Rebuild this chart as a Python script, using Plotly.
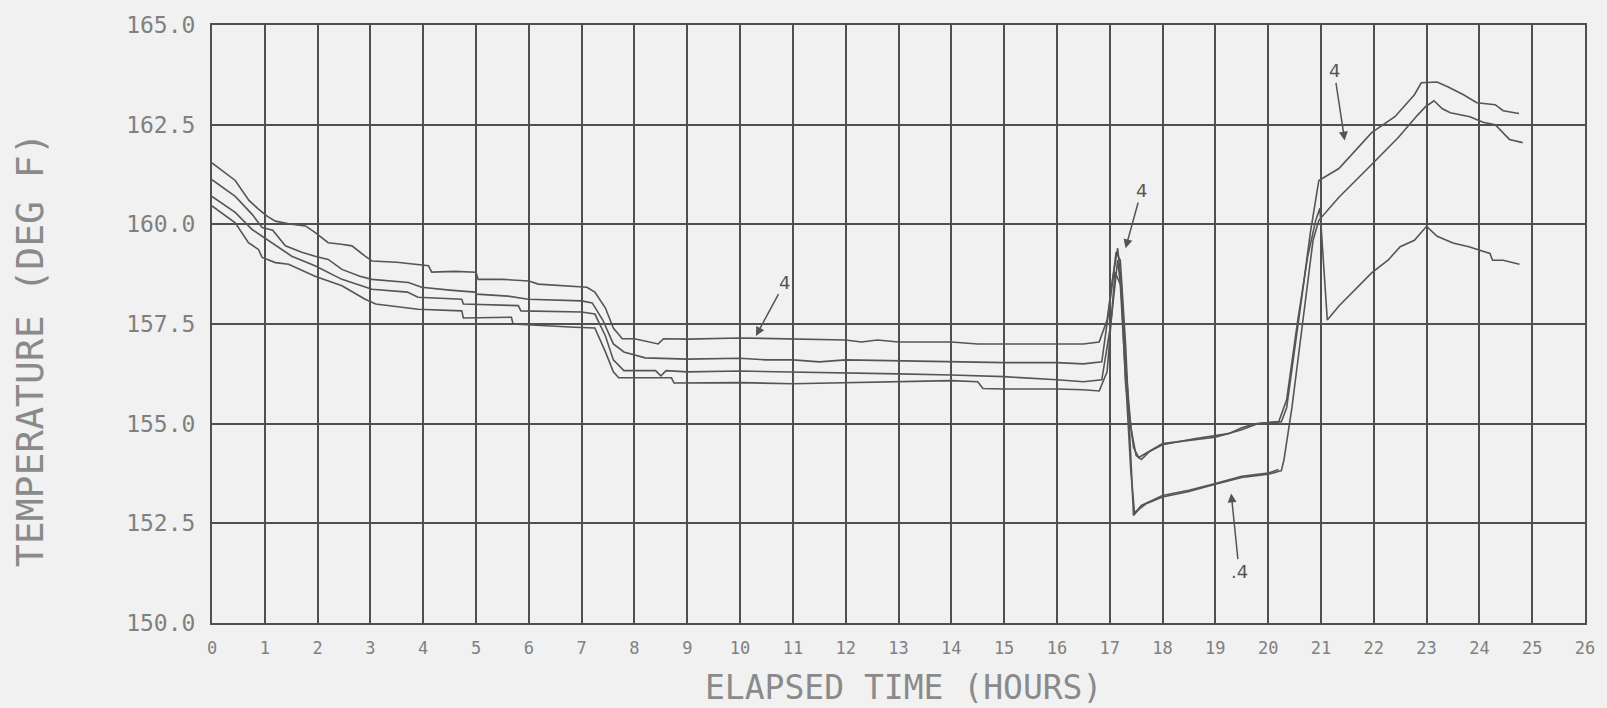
import plotly.graph_objects as go

# ---- data ----
t1 = [0, 0.2, 0.44, 0.7, 0.88, 1.05, 1.2, 1.5, 1.77, 1.95, 2.2, 2.45, 2.65, 2.9, 3.03, 3.5, 4.1, 4.16, 4.6, 5.0, 5.04,
      5.5, 6.0, 6.18, 6.6, 7.1, 7.25, 7.45, 7.6, 7.77, 8.0, 8.45, 8.55, 9, 10, 11, 12, 12.3, 12.6, 13, 14, 14.5, 15, 16,
      16.5, 16.8, 16.95, 17.05, 17.15, 17.22, 17.3, 17.4, 17.5, 17.6, 17.75, 18, 18.3, 18.6, 19, 19.25, 19.5, 19.75,
      20.0, 20.25, 20.35, 20.5, 20.65, 20.8, 20.96, 21.34, 21.96, 22.4, 22.77, 22.9, 23.2, 23.4, 23.7, 23.95, 24.3,
      24.45, 24.75]
v1 = [161.54, 161.35, 161.1, 160.6, 160.38, 160.2, 160.08, 160.0, 159.96, 159.8, 159.54, 159.5, 159.46, 159.2, 159.08,
      159.05, 158.96, 158.8, 158.82, 158.8, 158.62, 158.62, 158.58, 158.5, 158.47, 158.42, 158.3, 157.9, 157.4, 157.13,
      157.13, 157.0, 157.13, 157.12, 157.15, 157.12, 157.1, 157.05, 157.1, 157.05, 157.05, 157.0, 157.0, 157.0, 157.0,
      157.05, 157.6, 158.6, 159.4, 158.5, 156.5, 154.9, 154.2, 154.1, 154.3, 154.47, 154.55, 154.62, 154.7, 154.75,
      154.9, 155.0, 155.03, 155.05, 155.4, 156.8, 158.3, 159.8, 161.1, 161.4, 162.3, 162.7, 163.25, 163.55, 163.57,
      163.45, 163.25, 163.05, 163.0, 162.85, 162.78]

t2 = [0, 0.44, 0.76, 0.95, 1.15, 1.39, 1.7, 1.95, 2.2, 2.46, 2.8, 3.03, 3.72, 3.97, 4.5, 4.98, 5.01, 5.6, 5.99, 6.5,
      7.0, 7.2, 7.4, 7.6, 7.8, 8.2, 9, 10, 10.5, 11, 11.5, 12, 13, 14, 14.5, 15, 16, 16.5, 16.85, 17.0, 17.12, 17.2,
      17.3, 17.38, 17.45, 17.55, 17.7, 18, 18.5, 19, 19.5, 20, 20.25, 20.3, 20.45, 20.65, 20.85, 20.96, 21.34, 21.96,
      22.46, 22.83, 22.98, 23.14, 23.3, 23.45, 23.82, 24.07, 24.3, 24.57, 24.82]
v2 = [161.12, 160.7, 160.25, 159.92, 159.85, 159.46, 159.3, 159.2, 159.12, 158.87, 158.7, 158.62, 158.54, 158.42,
      158.35, 158.3, 158.25, 158.2, 158.12, 158.1, 158.08, 158.03, 157.6, 157.0, 156.8, 156.65, 156.62, 156.64, 156.6,
      156.6, 156.55, 156.6, 156.58, 156.55, 156.55, 156.53, 156.53, 156.5, 156.55, 158.0, 159.3, 159.1, 157.0, 154.5,
      152.7, 152.85, 153.0, 153.16, 153.3, 153.48, 153.65, 153.73, 153.82, 154.1, 155.4, 157.5, 159.6, 160.1, 160.68,
      161.5, 162.17, 162.74, 162.95, 163.1, 162.9, 162.8, 162.7, 162.56, 162.5, 162.13, 162.05]

t3 = [0, 0.44, 0.76, 0.95, 1.2, 1.51, 1.95, 2.46, 3.03, 3.7, 3.9, 4.73, 4.76, 5.8, 5.85, 7.0, 7.25, 7.45, 7.6, 7.8,
      8.4, 8.5, 8.6, 9, 10, 11, 12, 13, 14, 14.5, 15, 16, 16.5, 16.85, 17.02, 17.15, 17.22, 17.3, 17.45, 17.55, 17.8,
      18, 18.5, 19, 19.5, 19.8, 20.2, 20.35, 20.55, 20.75, 20.9, 20.98, 21.05, 21.12, 21.34, 21.65, 21.96, 22.27,
      22.5, 22.77, 23.0, 23.2, 23.5, 23.8, 24.2, 24.25, 24.45, 24.76]
v3 = [160.7, 160.3, 159.87, 159.7, 159.46, 159.2, 158.96, 158.62, 158.37, 158.3, 158.17, 158.12, 158.0, 157.96, 157.83,
      157.8, 157.75, 157.2, 156.6, 156.33, 156.33, 156.2, 156.33, 156.3, 156.32, 156.3, 156.28, 156.25, 156.22, 156.2,
      156.18, 156.1, 156.05, 156.1, 157.5, 159.1, 158.3, 156.0, 154.4, 154.15, 154.35, 154.5, 154.58, 154.66, 154.85,
      155.0, 155.05, 155.6, 157.5, 159.2, 160.1, 160.4, 159.0, 157.6, 157.95, 158.36, 158.78, 159.1, 159.44, 159.6,
      159.95, 159.7, 159.53, 159.44, 159.27, 159.1, 159.1, 159.0]

t4 = [0, 0.44, 0.69, 0.88, 0.95, 1.2, 1.45, 1.95, 2.46, 2.9, 3.1, 3.9, 4.73, 4.76, 5.67, 5.7, 6.87, 7.25, 7.45, 7.6,
      7.7, 8.7, 8.75, 10, 11, 12, 13, 14, 14.5, 14.6, 15, 16, 16.5, 16.8, 16.95, 17.1, 17.2, 17.3, 17.4, 17.47, 17.6,
      18, 18.5, 19, 19.5, 20, 20.2]
v4 = [160.46, 160.04, 159.54, 159.37, 159.17, 159.04, 159.0, 158.7, 158.46, 158.12, 158.0, 157.87, 157.83, 157.65,
      157.67, 157.5, 157.42, 157.4, 156.8, 156.3, 156.15, 156.15, 156.02, 156.03, 156.0, 156.03, 156.05, 156.08,
      156.05, 155.88, 155.87, 155.87, 155.85, 155.82, 156.3, 158.8, 158.5, 156.0, 153.8, 152.75, 152.95, 153.2,
      153.33, 153.5, 153.68, 153.76, 153.85]

x_ticks = list(range(0, 27))
x_tick_labels = [str(i) for i in x_ticks]
y_ticks = [150.0, 152.5, 155.0, 157.5, 160.0, 162.5, 165.0]
y_tick_labels = ["150.0", "152.5", "155.0", "157.5", "160.0", "162.5", "165.0"]

# handwritten notes: (arrow head t, head v, text t, text v, label)
notes_t = [10.3, 17.3, 19.3, 21.45]
notes_v = [157.2, 159.4, 153.25, 162.1]
notes_tx = [10.85, 17.6, 19.45, 21.25]
notes_vx = [158.55, 160.85, 151.3, 163.85]
notes_txt = ["4", "4", ".4", "4"]

# ---- figure ----
LINE = "#555555"
GRID = "#505050"
TXT = "#808080"
BG = "#f1f1f1"
FONT = "DejaVu Sans Mono"

fig = go.Figure()
for tt, vv in [(t1, v1), (t2, v2), (t3, v3), (t4, v4)]:
    fig.add_trace(go.Scatter(x=tt, y=vv, mode="lines", line=dict(color=LINE, width=1.6),
                             showlegend=False, hoverinfo="skip"))

for hx, hy, tx, ty, txt in zip(notes_t, notes_v, notes_tx, notes_vx, notes_txt):
    fig.add_annotation(x=hx, y=hy, ax=tx, ay=ty, xref="x", yref="y", axref="x", ayref="y",
                       text=txt, showarrow=True, arrowhead=2, arrowsize=1.2, arrowwidth=1.5,
                       arrowcolor="#555555", font=dict(family="DejaVu Sans", size=18, color="#555555"))

fig.add_annotation(text="ELAPSED TIME (HOURS)", xref="paper", yref="paper", x=0.504, y=-0.108,
                   showarrow=False, font=dict(family=FONT, size=33, color="#8a8a8a"),
                   xanchor="center", yanchor="middle")
fig.add_annotation(text="TEMPERATURE (DEG F)", xref="paper", yref="paper", x=-0.1326, y=0.458,
                   showarrow=False, textangle=-90, font=dict(family=FONT, size=38, color="#8a8a8a"),
                   xanchor="center", yanchor="middle")

fig.update_layout(
    width=1607, height=708,
    margin=dict(l=212, r=15, t=18, b=85),
    paper_bgcolor=BG, plot_bgcolor=BG,
    xaxis=dict(range=[0, 26], tickmode="array", tickvals=x_ticks, ticktext=x_tick_labels,
               showgrid=True, gridcolor=GRID, gridwidth=2, zeroline=False,
               showline=True, mirror=True, linecolor=GRID, linewidth=2,
               ticks="", ticklabelstandoff=9,
               tickfont=dict(family=FONT, size=17, color=TXT)),
    yaxis=dict(range=[150, 165], tickmode="array", tickvals=y_ticks, ticktext=y_tick_labels,
               showgrid=True, gridcolor=GRID, gridwidth=2, zeroline=False,
               showline=True, mirror=True, linecolor=GRID, linewidth=2,
               ticks="", ticklabelstandoff=10,
               tickfont=dict(family=FONT, size=23, color=TXT)),
)

fig.write_html("out.html", config={"displayModeBar": False},
               post_script="document.body.style.margin='0';document.body.style.background='#f1f1f1';")
